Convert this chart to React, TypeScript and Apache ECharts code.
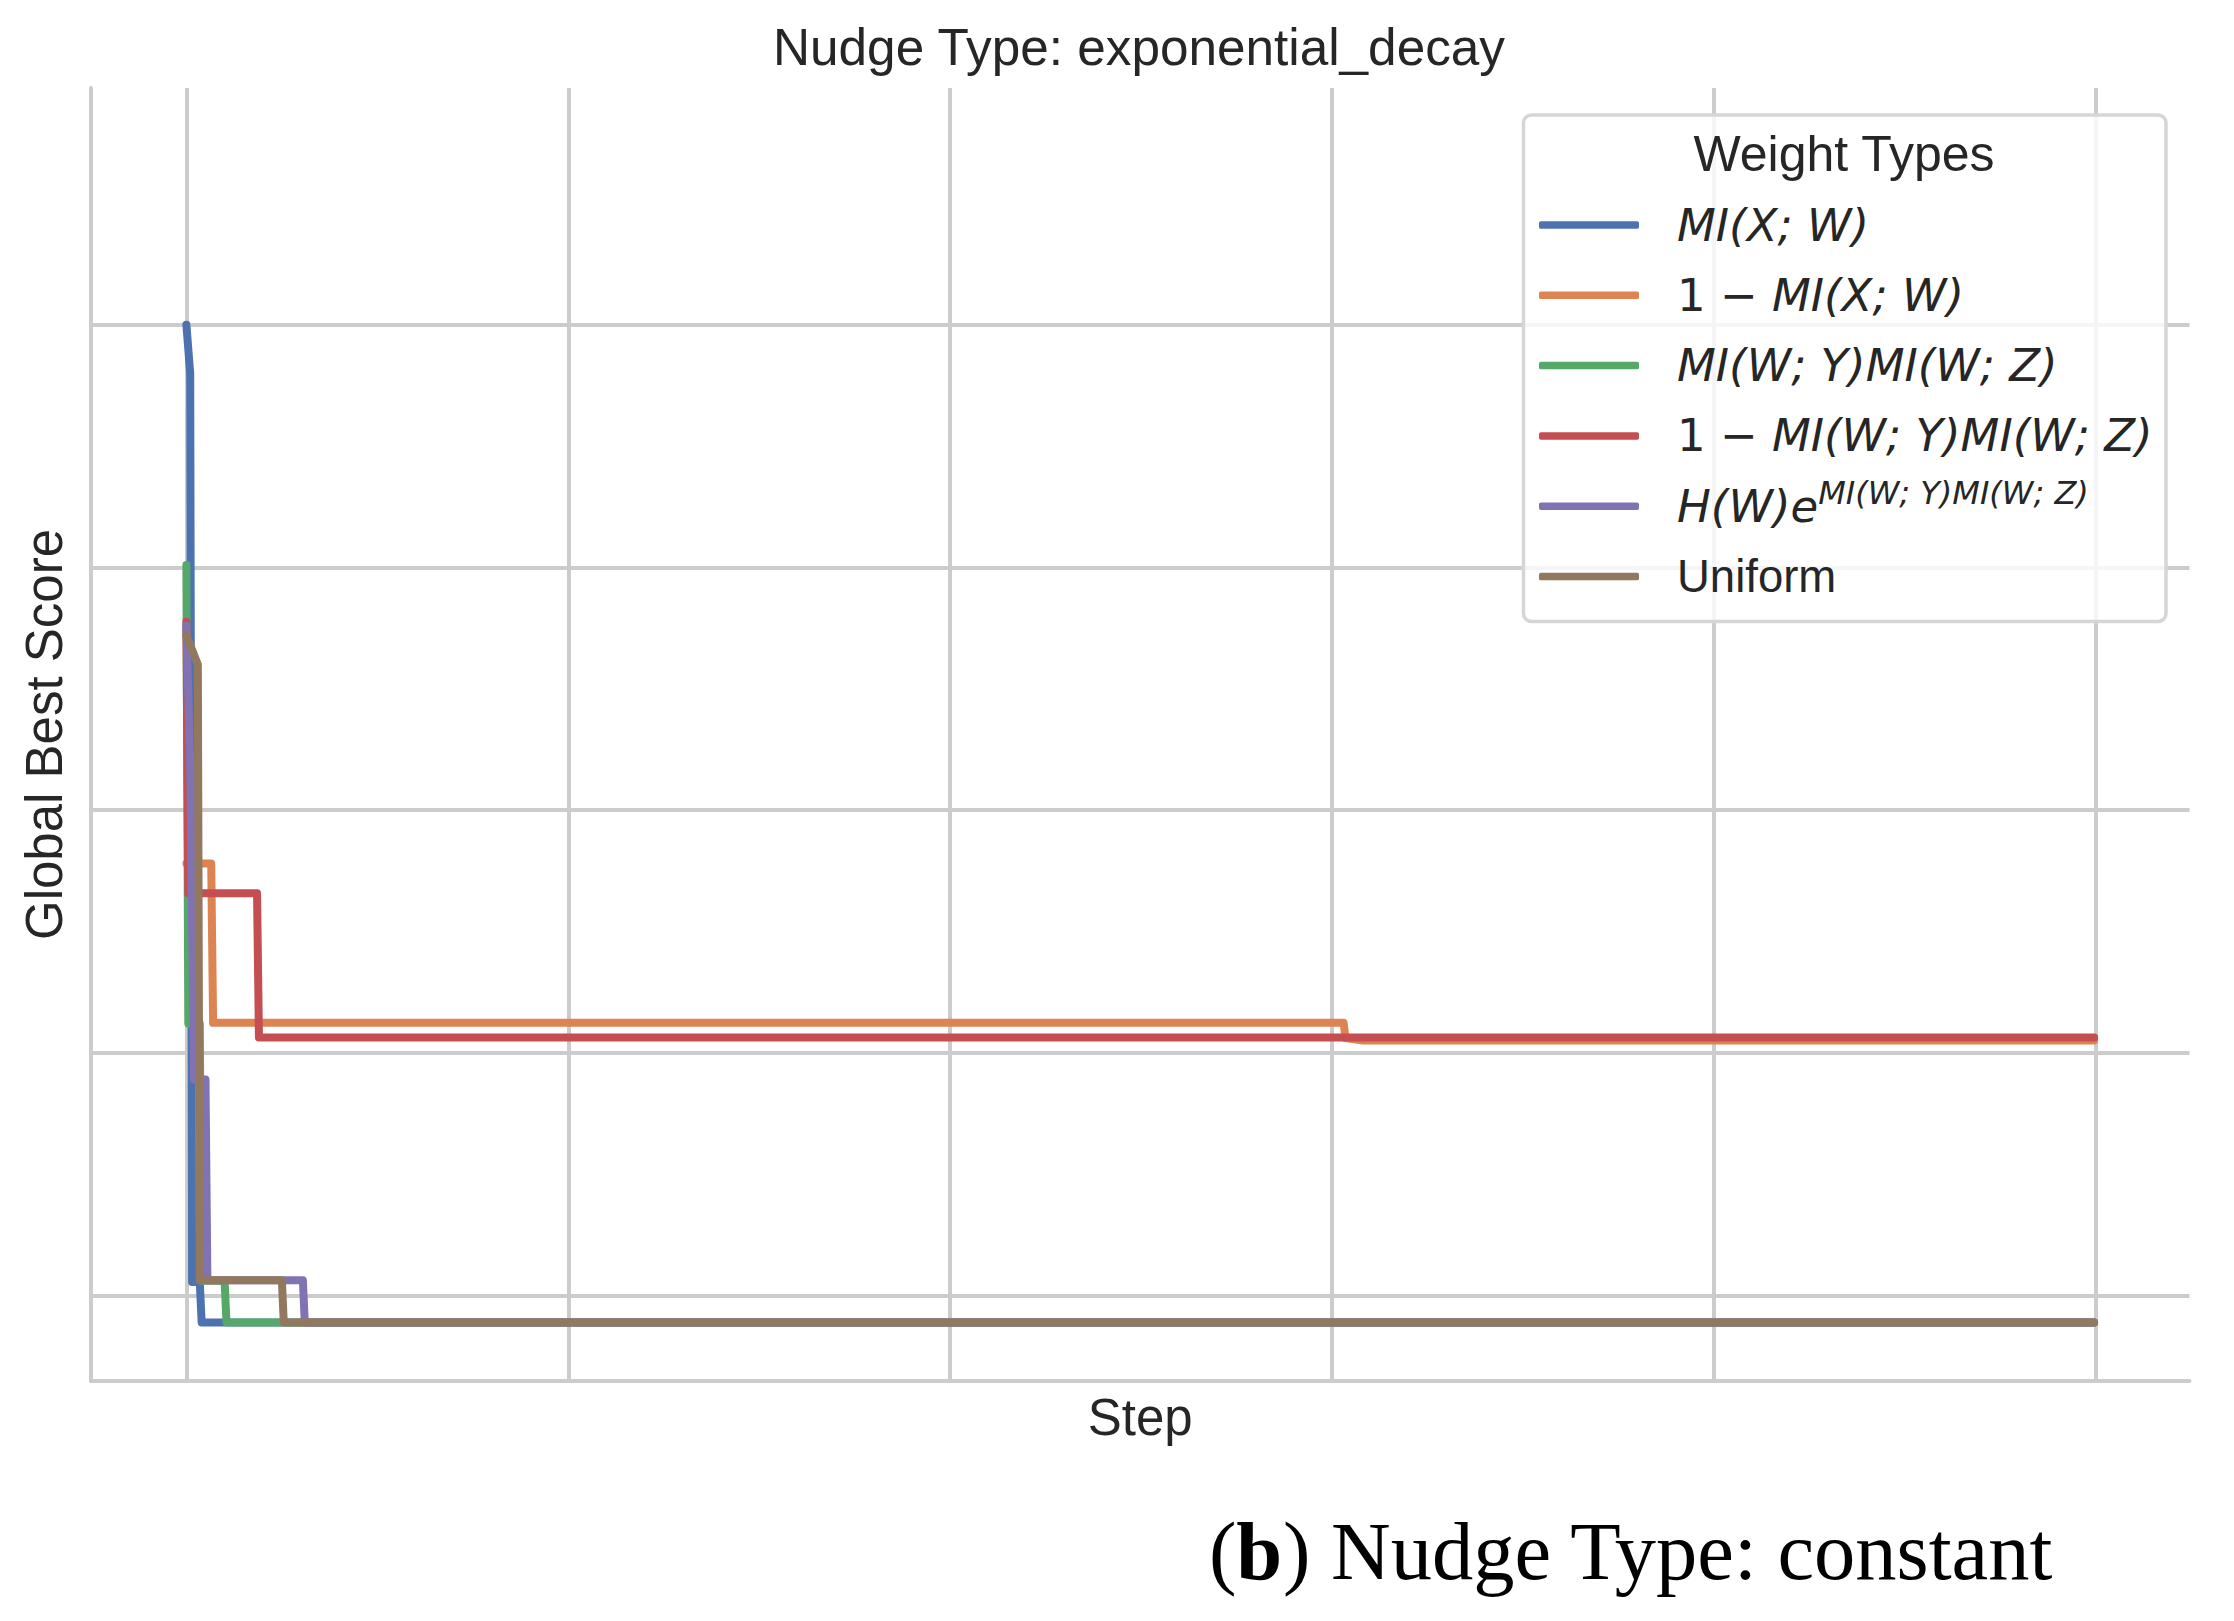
import React, { useEffect, useRef } from 'react';
import * as echarts from 'echarts';

// Series names (legend entries) and colours (seaborn "deep")
const seriesNames = [
  'MI(X; W)',
  '1 − MI(X; W)',
  'MI(W; Y)MI(W; Z)',
  '1 − MI(W; Y)MI(W; Z)',
  'H(W)e^MI(W; Y)MI(W; Z)',
  'Uniform',
];
const seriesColors = ['#4c72b0', '#dd8452', '#55a868', '#c44e52', '#8172b3', '#937860'];

// [step, global best score] breakpoints (arbitrary score units)
const miXW = [[0, 4.0], [2, 3.8], [3, 0.055], [7, 0.055], [8, -0.112], [999, -0.112]];
const oneMinusMiXW = [[0, 1.78], [13, 1.78], [14, 1.123], [606, 1.123], [607, 1.06], [616, 1.05], [999, 1.05]];
const miWYmiWZ = [[0, 3.01], [1, 1.12], [7, 1.12], [8, 0.06], [20, 0.06], [21, -0.112], [999, -0.112]];
const oneMinusMiWYmiWZ = [[0, 2.776], [1, 1.657], [37, 1.657], [38, 1.0625], [999, 1.0625]];
const hwExpMi = [[0, 2.76], [2, 2.19], [4, 0.89], [10, 0.89], [11, 0.062], [61, 0.062], [62, -0.112], [999, -0.112]];
const uniform = [[0, 2.72], [3, 2.66], [5, 2.62], [6, 2.6], [7, 0.062], [50, 0.062], [51, -0.112], [999, -0.112]];

const seriesData = [miXW, oneMinusMiXW, miWYmiWZ, oneMinusMiWYmiWZ, hwExpMi, uniform];

// Grid line positions (no tick labels in the original)
const xGridSteps = [0, 200, 400, 600, 800, 1000];
const yGridLevels = [0, 1, 2, 3, 4];

const legendRich = [
  '{g| }{it|MI(X; W)}',
  '{g| }{rm|1 − }{it|MI(X; W)}',
  '{g| }{it|MI(W; Y)MI(W; Z)}',
  '{g| }{rm|1 − }{it|MI(W; Y)MI(W; Z)}',
  '{g| }{it|H(W)e}{sup|MI(W; Y)MI(W; Z)}',
  '{g| }{u|Uniform}',
];

export default function App() {
  const ref = useRef<HTMLDivElement>(null);

  useEffect(() => {
    if (!ref.current) return;
    const chart = echarts.init(ref.current, undefined, { renderer: 'svg' });
    const textColor = '#262626';
    const gridColor = '#cccccc';
    const LH = 59.3;

    const series: any[] = seriesNames.map((name, i) => ({
      name,
      type: 'line',
      data: seriesData[i],
      showSymbol: false,
      symbol: 'none',
      color: seriesColors[i],
      itemStyle: { color: seriesColors[i] },
      lineStyle: { color: seriesColors[i], width: 8, cap: 'round', join: 'round' },
      emphasis: { disabled: true },
      silent: true,
      z: 2,
    }));

    series[0].markLine = {
      silent: true,
      z: 1,
      symbol: ['none', 'none'],
      label: { show: false },
      emphasis: { disabled: true },
      lineStyle: { color: gridColor, width: 4, type: 'solid' },
      data: [
        ...xGridSteps.map((v) => ({ xAxis: v })),
        ...yGridLevels.map((v) => ({ yAxis: v })),
      ],
    };

    chart.setOption({
      animation: false,
      backgroundColor: '#ffffff',
      title: {
        text: 'Nudge Type: exponential_decay',
        left: 1139,
        top: 22,
        padding: 0,
        textAlign: 'center',
        textVerticalAlign: 'top',
        textStyle: {
          fontFamily: 'Liberation Sans',
          fontSize: 51.3,
          fontWeight: 'normal',
          color: textColor,
          lineHeight: 51,
        },
      },
      grid: { left: 91, right: 44.5, top: 88, bottom: 240, containLabel: false },
      xAxis: {
        type: 'value',
        min: -49.95,
        max: 1048.95,
        name: 'Step',
        nameLocation: 'middle',
        nameGap: 10.5,
        nameTextStyle: { fontFamily: 'Liberation Sans', fontSize: 51, color: textColor, lineHeight: 51 },
        axisLine: { show: true, onZero: false, lineStyle: { color: gridColor, width: 4 } },
        axisTick: { show: false },
        axisLabel: { show: false },
        splitLine: { show: false },
      },
      yAxis: {
        type: 'value',
        min: -0.353,
        max: 4.976,
        name: 'Global Best Score',
        nameLocation: 'middle',
        nameGap: 21.5,
        nameTextStyle: { fontFamily: 'Liberation Sans', fontSize: 51, color: textColor, lineHeight: 51 },
        axisLine: { show: true, onZero: false, lineStyle: { color: gridColor, width: 4 } },
        axisTick: { show: false },
        axisLabel: { show: false },
        splitLine: { show: false },
      },
      legend: {
        data: seriesNames,
        orient: 'vertical',
        left: 1539,
        top: 195.35,
        padding: 0,
        itemGap: 11,
        itemWidth: 100,
        itemHeight: 7.5,
        icon: 'roundRect',
        itemStyle: { borderWidth: 0 },
        selectedMode: false,
        z: 20,
        formatter: (name: string) => legendRich[seriesNames.indexOf(name)],
        textStyle: {
          color: textColor,
          fontFamily: 'DejaVu Sans',
          fontSize: 45,
          lineHeight: LH,
          rich: {
            g: { width: 33, fontSize: 45, lineHeight: LH },
            it: { fontFamily: 'DejaVu Sans', fontStyle: 'italic', fontSize: 45, lineHeight: LH, color: textColor },
            rm: { fontFamily: 'DejaVu Sans', fontSize: 45, lineHeight: LH, color: textColor },
            sup: {
              fontFamily: 'DejaVu Sans',
              fontStyle: 'italic',
              fontSize: 32,
              lineHeight: 35,
              verticalAlign: 'top',
              color: textColor,
            },
            u: { fontFamily: 'Liberation Sans', fontSize: 45.5, lineHeight: LH, color: textColor },
          },
        },
      },
      graphic: [
        {
          type: 'rect',
          z: 10,
          silent: true,
          shape: { x: 1523.5, y: 115, width: 642.5, height: 506.5, r: 8 },
          style: { fill: 'rgba(255,255,255,0.8)', stroke: '#d6d6d6', lineWidth: 3.5 },
        },
        {
          type: 'text',
          z: 21,
          x: 1844,
          y: 154,
          style: {
            text: 'Weight Types',
            fontFamily: 'Liberation Sans',
            fontSize: 50,
            fill: textColor,
            align: 'center',
            verticalAlign: 'middle',
          },
        },
        {
          type: 'text',
          z: 21,
          x: 1631,
          y: 1551,
          style: {
            text: '{p|(}{b|b}{p|) Nudge Type: constant}',
            align: 'center',
            verticalAlign: 'middle',
            fontFamily: 'Liberation Serif',
            fontSize: 82.5,
            fill: '#000000',
            rich: {
              p: { fontFamily: 'Liberation Serif', fontSize: 82.5, fill: '#000000' },
              b: { fontFamily: 'Liberation Serif', fontSize: 82.5, fontWeight: 'bold', fill: '#000000' },
            },
          },
        },
      ],
      series,
    });

    return () => chart.dispose();
  }, []);

  return (
    <div
      ref={ref}
      style={{ position: 'absolute', left: 0, top: 0, width: 2234, height: 1621, background: '#ffffff' }}
    />
  );
}
